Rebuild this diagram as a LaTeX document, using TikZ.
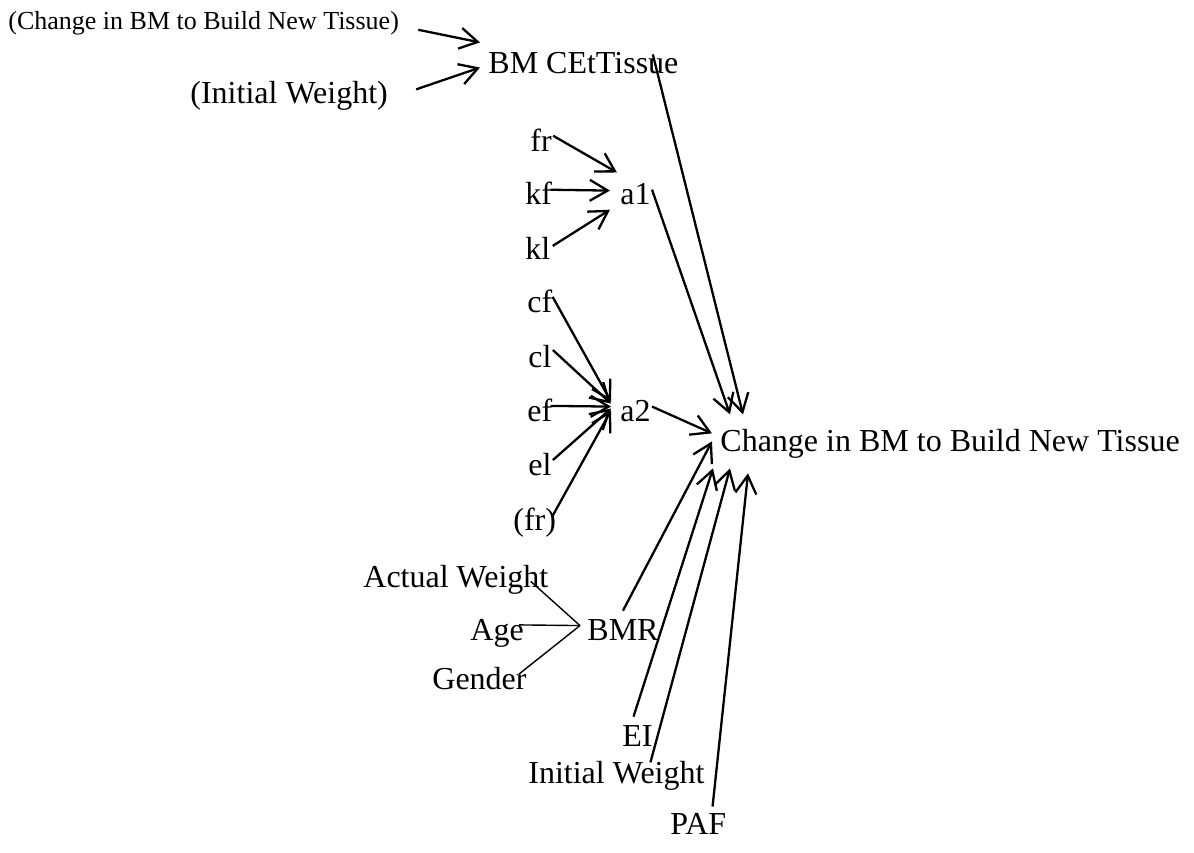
\documentclass[tikz,border=0pt]{standalone}
\usepackage{amsmath}
\usepackage{fontspec}
\setmainfont{Liberation Serif}
\usetikzlibrary{arrows.meta}

\begin{document}
\begin{tikzpicture}[x=0.5pt, y=-0.5pt,
  link/.style={line width=1.15pt, black, -{Straight Barb[length=9pt,width=10.5pt]}},
  plain/.style={line width=0.7pt, black}]
\useasboundingbox (0,0) rectangle (1194,852);
\begin{scope}[every node/.style={anchor=base west, inner sep=0pt, font=\fontsize{16}{19}\selectfont}]
\node (0)[font=\fontsize{13}{16}\selectfont] at (8,29) {(Change in BM to Build New Tissue)};
\node (1) at (190,103) {(Initial Weight)};
\node (2) at (488,73)  {BM CEtTissue};

\node (3) at (530,151) {fr};
\node (4) at (525,204) {kf};
\node (5) at (525,259) {kl};
\node (6) at (620,204) {a1};

\node (7) at (527,312)  {cf};
\node (8) at (528,367)  {cl};
\node (9) at (527,421)  {ef};
\node (10) at (528,475) {el};
\node (11) at (513,530) {(fr)};
\node (12) at (620,421) {a2};

\node (13) at (720,451) {Change in BM to Build New Tissue};

\node (14) at (363,587) {Actual Weight};
\node (15) at (470,640) {Age};
\node (16) at (432,689) {Gender};
\node (17) at (587,640) {BMR};

\node (18) at (622,746) {EI};
\node (19) at (528,783) {Initial Weight};
\node (20) at (670,834) {PAF};
\end{scope}

% inputs of BM CEtTissue
\draw[link] ([shift={(19,7)}]0.east) -- ([shift={(-8,-9)}]2.north west);
\draw[link] ([shift={(28,-6)}]1.east) -- ([shift={(-8,5)}]2.west);

% a1
\draw[link] ([shift={(1,-4)}]3.east) -- ([shift={(-3,-10)}]6.north west);
\draw[link] ([shift={(-2,-3)}]4.east) -- ([shift={(-10,-3)}]6.west);
\draw[link] ([shift={(2,-2)}]5.east) -- ([shift={(-10,5)}]6.south west);

% a2
\draw[link] ([shift={(0,-4)}]7.east) -- ([shift={(-9,-9)}]12.west);
\draw[link] ([shift={(1,-6)}]8.east) -- ([shift={(-9,-7)}]12.west);
\draw[link] ([shift={(-2,-4)}]9.east) -- ([shift={(-9,-4)}]12.west);
\draw[link] ([shift={(1,-4)}]10.east) -- ([shift={(-9,-2)}]12.west);
\draw[link] ([shift={(-4,-6)}]11.east) -- ([shift={(-9,0)}]12.west);

% BMR, no arrow heads
\draw[plain] ([shift={(-18,2)}]14.east) -- ([shift={(-7,-4)}]17.west);
\draw[plain] ([shift={(-5,-8)}]15.east) -- ([shift={(-7,-4)}]17.west);
\draw[plain] ([shift={(-8,-4)}]16.east) -- ([shift={(-7,-4)}]17.west);

% everything into the change in BM
\draw[link] ([shift={(-26,3)}]2.north east) -- ([shift={(23,-14)}]13.north west);
\draw[link] ([shift={(1,-4)}]6.east) -- ([shift={(10,-14)}]13.north west);
\draw[link] ([shift={(1,-4)}]12.east) -- ([shift={(-8,-10)}]13.west);
\draw[link] ([shift={(0,-8)}]17.north) -- ([shift={(-8,-2)}]13.west);
\draw[link] ([shift={(-4,-8)}]18.north) -- ([shift={(-7,10)}]13.south west);
\draw[link] ([shift={(34,2)}]19.north) -- ([shift={(10,10)}]13.south west);
\draw[link] ([shift={(-14,-6)}]20.north east) -- ([shift={(28,15)}]13.south west);
\end{tikzpicture}
\end{document}
